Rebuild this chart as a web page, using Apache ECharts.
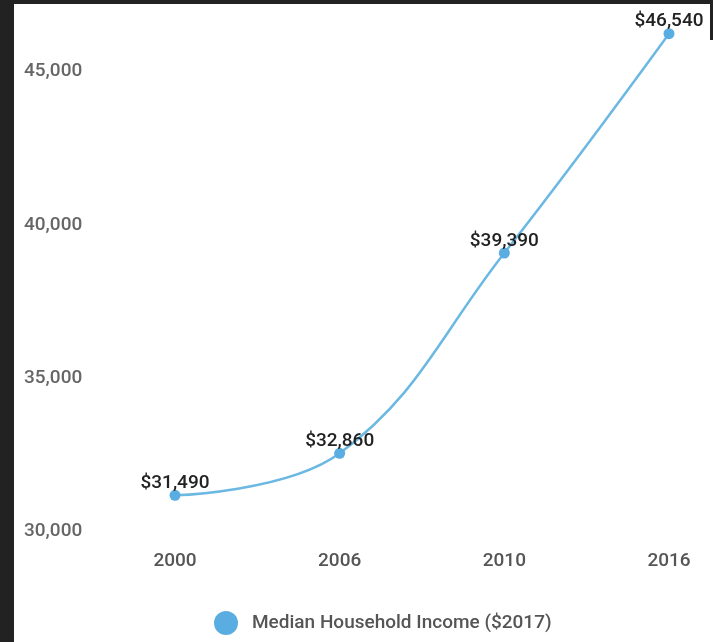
<!DOCTYPE html>
<html><head><meta charset="utf-8">
<script src="https://cdn.jsdelivr.net/npm/echarts@6/dist/echarts.min.js"></script>
<style>html,body{margin:0;padding:0;background:#fff}#c{width:713px;height:642px}</style>
</head><body><div id="c"></div>
<script>
const years = ['2000', '2006', '2010', '2016'];
const income = [31490, 32860, 39390, 46540];
const seriesName = 'Median Household Income ($2017)';

const chart = echarts.init(document.getElementById('c'));
chart.setOption({
  backgroundColor: '#fff',
  animation: false,
  graphic: [
    {type: 'rect', shape: {x: 0, y: 0, width: 713, height: 4}, style: {fill: '#222'}},
    {type: 'rect', shape: {x: 0, y: 0, width: 14, height: 642}, style: {fill: '#222'}},
    {type: 'rect', shape: {x: 710, y: 0, width: 3, height: 40}, style: {fill: '#222'}}
  ],
  grid: {left: 175, right: 44, top: 19.6, bottom: 101},
  legend: {
    left: 209, top: 606,
    icon: 'circle', itemWidth: 24, itemHeight: 24,
    textStyle: {fontFamily: 'Roboto', fontSize: 19, fontWeight: 500, color: '#555', padding: [0, 0, 0, 9]},
    data: [seriesName]
  },
  xAxis: {
    type: 'category', data: years, boundaryGap: false,
    axisLine: {show: false}, axisTick: {show: false},
    axisLabel: {fontFamily: 'Roboto', fontSize: 19, fontWeight: 500, color: '#555', margin: 11}
  },
  yAxis: {
    type: 'value', min: 30000, max: 47000, interval: 5000,
    splitLine: {show: false}, axisLine: {show: false}, axisTick: {show: false},
    axisLabel: {
      fontFamily: 'Roboto', fontSize: 19, fontWeight: 500, color: '#666', align: 'left', margin: 151,
      verticalAlign: 'bottom', showMaxLabel: false,
      formatter: v => v.toLocaleString('en-US')
    }
  },
  series: [{
    name: seriesName, type: 'line', data: income, smooth: 0.4,
    symbol: 'circle', symbolSize: 11,
    lineStyle: {color: '#6bb8e2', width: 2.5},
    itemStyle: {color: '#5aade0'},
    label: {
      show: true, position: 'top', distance: -3,
      fontFamily: 'Roboto', fontSize: 19, fontWeight: 500, color: '#222',
      formatter: p => '$' + p.value.toLocaleString('en-US')
    }
  }]
});
</script></body></html>
